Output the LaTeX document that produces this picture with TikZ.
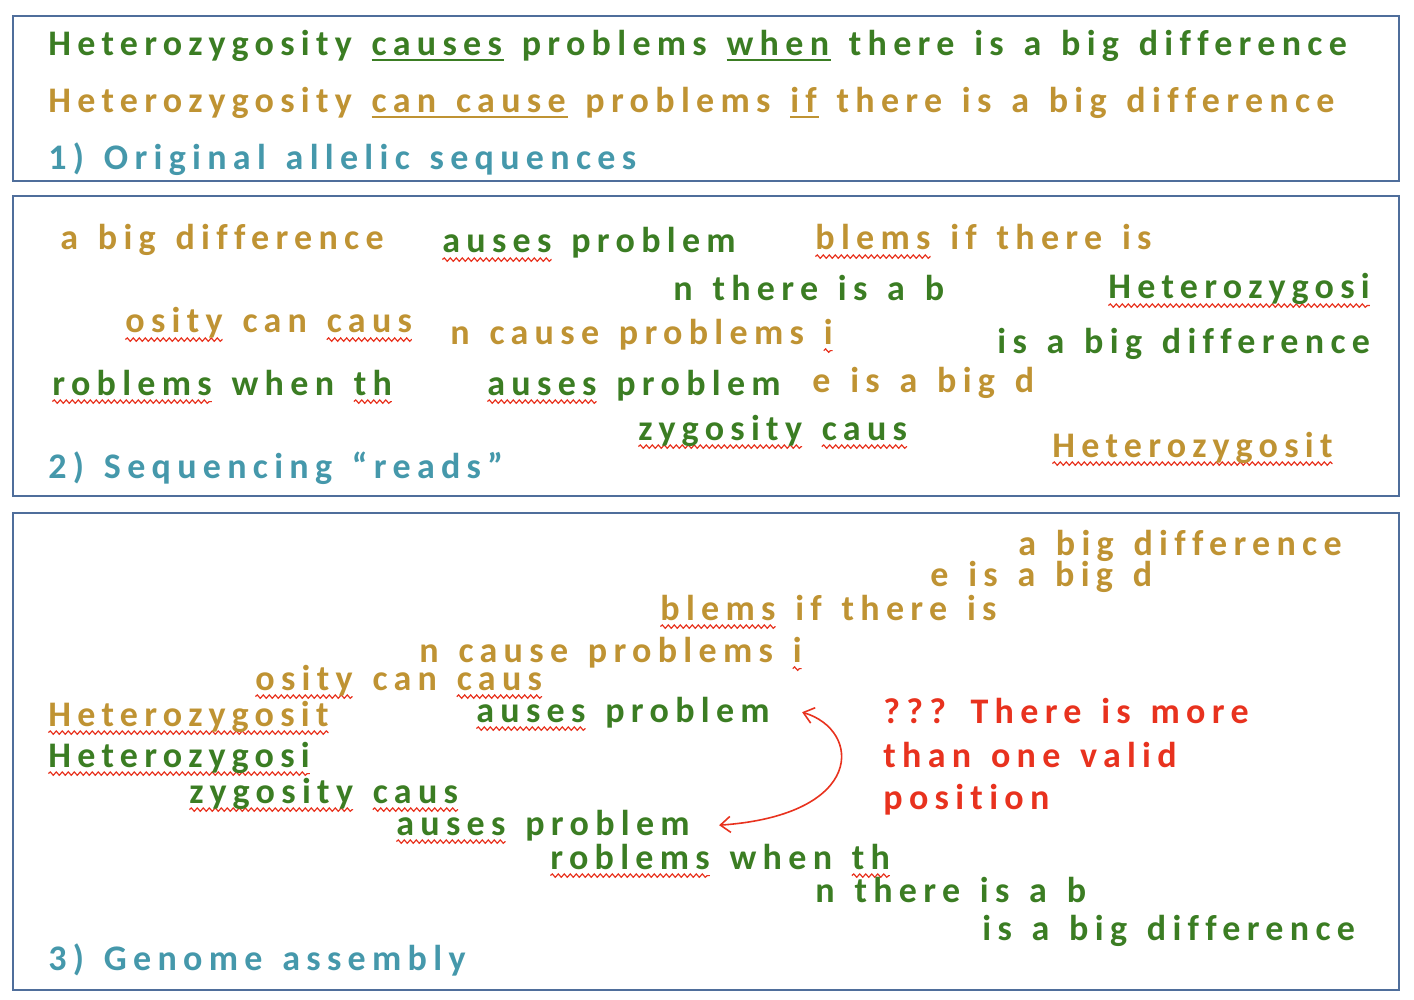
\documentclass[tikz,border=0pt]{standalone}
\usepackage{fontspec}
\usetikzlibrary{arrows.meta,decorations.pathmorphing}

\newfontfamily\readfont{Carlito}[LetterSpace=17.5, WordSpace=1.37, Ligatures={NoCommon}]

\definecolor{alleleA}{HTML}{3B7D23}
\definecolor{alleleB}{HTML}{BF9333}
\definecolor{stage}{HTML}{4598AB}
\definecolor{warn}{HTML}{E8321E}
\definecolor{frame}{HTML}{4F6E9B}

\tikzset{spellmark/.style={draw=warn, line width=0.6pt, decorate, decoration={snake, segment length=3pt, amplitude=0.85pt}}}

\newlength\spellwd
% wavy red mark under a word
\newcommand\spell[1]{\settowidth\spellwd{#1}\rlap{\tikz[overlay,baseline=0pt]\draw[spellmark] (0pt,-3.3pt) -- (\spellwd,-3.3pt);}#1}
% plain underline in the text colour
\newcommand\keyword[1]{\settowidth\spellwd{#1}\rlap{\rule[-2.4pt]{\dimexpr\spellwd+1pt}{1pt}}#1}

\begin{document}
\begin{tikzpicture}[
        x=0.5pt, y=-0.5pt,
        every node/.style={anchor=base west, inner sep=0pt, font=\readfont\bfseries\fontsize{18}{21}\selectfont},
        allA/.style={text=alleleA},
        allB/.style={text=alleleB},
        stagelabel/.style={text=stage},
        note/.style={text=warn},
        panel/.style={draw=frame, line width=1pt},
        notearrow/.style={draw=warn, line width=0.8pt, {Straight Barb[length=5pt,width=8pt]}-{Straight Barb[length=5pt,width=8pt]}}
    ]
        \useasboundingbox (0,0) rectangle (1414,1000);

        % Panels
        \draw[panel] (13,16) rectangle (1399,181);
        \draw[panel] (13,196) rectangle (1399,496);
        \draw[panel] (13,513) rectangle (1399,990);

        % 1) alleles
        \node[allA] (seqA) at (48,56) {Heterozygosity \keyword{causes} problems \keyword{when} there is a big difference};
        \node[allB] (seqB) at (48,113) {Heterozygosity \keyword{can cause} problems \keyword{if} there is a big difference};
        \node[stagelabel] (stage1) at (48,170) {1) Original allelic sequences};

        % 2) reads
        \node[allB] (read1) at (60,250) {a big difference};
        \node[allA] (read2) at (442,253) {\spell{auses} problem};
        \node[allB] (read3) at (815,250) {\spell{blems} if there is};
        \node[allA] (read4) at (673,300) {n there is a b};
        \node[allA] (read5) at (1108,299) {\spell{Heterozygosi}};
        \node[allB] (read6) at (125,333) {\spell{osity} can \spell{caus}};
        \node[allB] (read7) at (450,344) {n cause problems \spell{i}};
        \node[allA] (read8) at (997,353) {is a big difference};
        \node[allA] (read9) at (52,395) {\spell{roblems} when \spell{th}};
        \node[allA] (read10) at (487,395) {\spell{auses} problem};
        \node[allB] (read11) at (812,393) {e is a big d};
        \node[allA] (read12) at (638,440) {\spell{zygosity} \spell{caus}};
        \node[allB] (read13) at (1052,457) {\spell{Heterozygosit}};
        \node[stagelabel] (stage2) at (48,478) {2) Sequencing “reads”};

        % 3) assembly
        \node[allB] (asm1) at (1018,555) {a big difference};
        \node[allB] (asm2) at (930,586) {e is a big d};
        \node[allB] (asm3) at (660,620) {\spell{blems} if there is};
        \node[allB] (asm4) at (419,662) {n cause problems \spell{i}};
        \node[allB] (asm5) at (255,690) {\spell{osity} can \spell{caus}};
        \node[allB] (asm6) at (48,726) {\spell{Heterozygosit}};
        \node[allA] (asm7) at (476,722) {\spell{auses} problem};
        \node[allA] (asm8) at (48,767) {\spell{Heterozygosi}};
        \node[allA] (asm9) at (189,803) {\spell{zygosity} \spell{caus}};
        \node[allA] (asm10) at (396,835) {\spell{auses} problem};
        \node[allA] (asm11) at (550,869) {\spell{roblems} when \spell{th}};
        \node[allA] (asm12) at (815,902) {n there is a b};
        \node[allA] (asm13) at (982,940) {is a big difference};
        \node[stagelabel] (stage3) at (48,970) {3) Genome assembly};

        % Note
        \node[note] (note1) at (883,723) {??? There is more};
        \node[note] (note2) at (883,767) {than one valid};
        \node[note] (note3) at (883,809) {position};

        % Arrows
        \draw[notearrow] ([xshift=16pt]asm7.east) .. controls (862,730) and (866,815) .. ([xshift=14.5pt]asm10.east);
    \end{tikzpicture}
\end{document}
